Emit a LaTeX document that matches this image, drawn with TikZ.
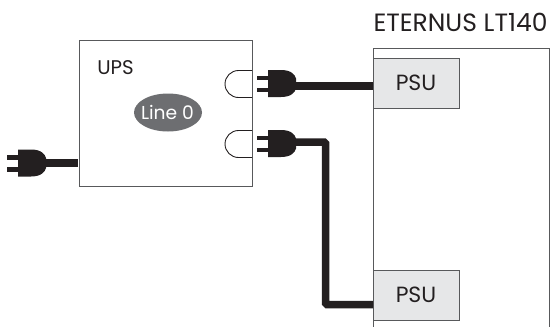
\documentclass[tikz,border=0pt]{standalone}
\usepackage{fontspec}
\setmainfont{Poppins}
\usetikzlibrary{positioning}
\definecolor{plugblack}{HTML}{231F20}
\definecolor{linegray}{HTML}{58595B}
\definecolor{ovalgray}{HTML}{6D6E71}
\definecolor{psugray}{HTML}{E6E7E8}
\tikzset{
  box/.style={draw=linegray,line width=1pt,inner sep=0pt},
  psubox/.style={box,fill=psugray,minimum width=86pt,minimum height=50pt,font=\fontsize{22}{24}\selectfont,text=plugblack},
  cable/.style={draw=plugblack,line width=7.5pt,rounded corners=1.5pt},
  label/.style={text=plugblack,inner sep=0pt}
}
\newcommand{\powerplug}[3]{%
  \fill[plugblack] (#1-11,#2-8) rectangle (#1,#2-3.5);
  \fill[plugblack] (#1-11,#2+4) rectangle (#1,#2+8.5);
  \fill[plugblack] (#1,#2-13.5) -- (#1+13,#2-13.5)
    .. controls (#1+23,#2-13.5) and (#1+27,#2-9) .. (#1+28,#2-5)
    -- (#1+28,#2+5)
    .. controls (#1+27,#2+9) and (#1+23,#2+13.5) .. (#1+13,#2+13.5)
    -- (#1,#2+13.5) -- cycle;
  \coordinate (#3) at (#1+24,#2);
}
\newcommand{\outlet}[1]{%
  \draw[plugblack,line width=0.9pt] (252,#1-13.5) -- (238.5,#1-13.5)
    arc[start angle=270,end angle=90,radius=13.5] -- (252,#1+13.5);
}
\begin{document}
\begin{tikzpicture}[x=1pt,y=-1pt]
  \useasboundingbox (0,0) rectangle (550,327);
  % UPS side
  \node[box,minimum width=173pt,minimum height=146pt] (ups) at (165.5,113) {};
  \node[label,font=\fontsize{19.8}{22}\selectfont] (upslabel) at (115.5,67.5) {UPS};
  \fill[ovalgray] (168,112.5) ellipse[x radius=34,y radius=19];
  \node[label,text=white,font=\fontsize{18.7}{20}\selectfont] (line) at (167.5,112.5) {Line 0};
  \outlet{84}
  \outlet{144}
  % enclosure, open at the bottom
  \draw[linegray,line width=1pt] (373,327) -- (373,48) -- (549,48) -- (549,327);
  \node[label,font=\fontsize{25}{27}\selectfont] (lt) at (460.5,22) {ETERNUS LT140};
  \node[psubox] (psua) at (416,83) {PSU};
  \node[psubox] (psub) at (416,295) {PSU};
  % plugs
  \powerplug{268}{83.5}{plugA}
  \powerplug{268}{143.5}{plugB}
  \powerplug{18}{163}{plugC}
  \coordinate (inA) at (373,86);
  \coordinate (inB) at (373,304.5);
  \coordinate (bendB) at (325.5,142);
  \coordinate (inC) at (78,163);
  \draw[cable] (plugA |- inA) -- (inA);
  \draw[cable] (plugB |- bendB) -- (bendB) -- (bendB |- inB) -- (inB);
  \draw[cable] (plugC |- inC) -- (inC);
\end{tikzpicture}
\end{document}
